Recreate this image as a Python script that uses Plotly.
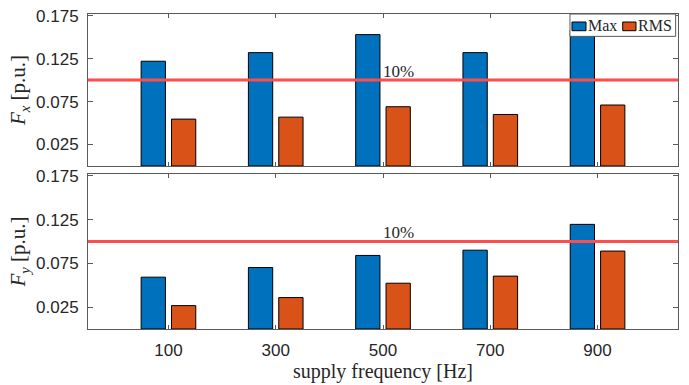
import plotly.graph_objects as go
from plotly.subplots import make_subplots

freq_labels = ["100", "300", "500", "700", "900"]
fx_max = [0.122, 0.132, 0.153, 0.132, 0.158]
fx_rms = [0.0546, 0.0569, 0.069, 0.060, 0.071]
fy_max = [0.0592, 0.0702, 0.084, 0.090, 0.1195]
fy_rms = [0.0267, 0.0359, 0.0523, 0.0604, 0.089]
y_tickvals = [0.025, 0.075, 0.125, 0.175]
y_ticktext = ["0.025", "0.075", "0.125", "0.175"]
series_names = ["Max", "RMS"]
limit_value = 0.1
limit_label = "10%"
limit_label_at = "500"

BLUE = "#0072BD"
ORANGE = "#D95319"
RED = "rgb(255,77,77)"
TXT = "#262626"
AX = "rgb(90,90,90)"
SERIF = "Liberation Serif"
SANS = "Liberation Sans"

fig = make_subplots(rows=2, cols=1, shared_xaxes=False, vertical_spacing=0.0)

colors = [BLUE, ORANGE]
for row, pair in enumerate([(fx_max, fx_rms), (fy_max, fy_rms)], start=1):
    for name, vals, col in zip(series_names, pair, colors):
        fig.add_trace(go.Bar(x=freq_labels, y=vals, name=name,
                             marker=dict(color=col, line=dict(color="black", width=1)),
                             showlegend=False), row=row, col=1)

fig.update_layout(
    width=689, height=385,
    margin=dict(l=88, r=11, t=14, b=56, autoexpand=False),
    paper_bgcolor="white", plot_bgcolor="white",
    barmode="group", bargap=0.434, bargroupgap=0.2,
    showlegend=False,
    font=dict(family=SANS, color=TXT),
)

fig.update_layout(
    yaxis=dict(domain=[0.5175, 1.0]),
    yaxis2=dict(domain=[0.0, 0.492]),
)

for ax in ["xaxis", "xaxis2"]:
    fig.layout[ax].update(
        categoryorder="array", categoryarray=freq_labels, automargin=False,
        range=[-0.75, 4.75], showline=True, linecolor=AX, linewidth=1, mirror="ticks",
        ticks="inside", ticklen=4, tickcolor=AX, showgrid=False,
        tickfont=dict(family=SANS, size=17, color=TXT),
    )
fig.layout.xaxis.update(showticklabels=False)
fig.layout.xaxis2.update(
    ticklabelstandoff=6,
    title=dict(text="supply frequency [Hz]", font=dict(family=SERIF, size=20, color=TXT), standoff=3),
)

for ax, sub in [("yaxis", "x"), ("yaxis2", "y")]:
    fig.layout[ax].update(
        range=[0, 0.177], tickvals=y_tickvals, ticktext=y_ticktext, automargin=False,
        showline=True, linecolor=AX, linewidth=1, mirror="ticks",
        ticks="inside", ticklen=5, tickcolor=AX, showgrid=False, zeroline=False,
        tickfont=dict(family=SANS, size=17, color=TXT), ticklabelstandoff=5,
        title=dict(text=f"<i>F</i><sub><i>{sub}</i></sub> [p.u.]",
                   font=dict(family=SERIF, size=21, color=TXT), standoff=4),
    )

lab_idx = freq_labels.index(limit_label_at)
for xref, yref in [("x", "y"), ("x2", "y2")]:
    fig.add_shape(type="line", xref="paper", x0=0, x1=1, yref=yref, y0=limit_value, y1=limit_value,
                  line=dict(color=RED, width=3), layer="above")
    fig.add_annotation(x=lab_idx, y=limit_value, xref=xref, yref=yref,
                       text=limit_label, showarrow=False, xanchor="left", yanchor="bottom",
                       font=dict(family=SERIF, size=17, color=TXT), xshift=-2, yshift=-3)

# legend box (top-right, inside the upper axes), built in paper coordinates
fig.add_shape(type="rect", xref="paper", yref="paper", x0=0.8169, x1=0.996, y0=0.929, y1=1.0,
              fillcolor="white", line=dict(color=AX, width=1), layer="above")
leg_sw = [(0.8203, 0.8441, 0.8458), (0.9063, 0.9288, 0.9305)]
for (sx0, sx1, tx), name, col in zip(leg_sw, series_names, colors):
    fig.add_shape(type="rect", xref="paper", yref="paper", x0=sx0, x1=sx1, y0=0.947, y1=0.9746,
                  fillcolor=col, line=dict(color="black", width=1), layer="above")
    fig.add_annotation(x=tx, y=0.962, xref="paper", yref="paper", text=name, showarrow=False,
                       xanchor="left", yanchor="middle", font=dict(family=SERIF, size=16, color=TXT),
                       borderpad=0)

fig.write_html("out.html", config={"displayModeBar": False},
               post_script="document.body.style.margin='0';document.body.style.overflow='hidden';")
